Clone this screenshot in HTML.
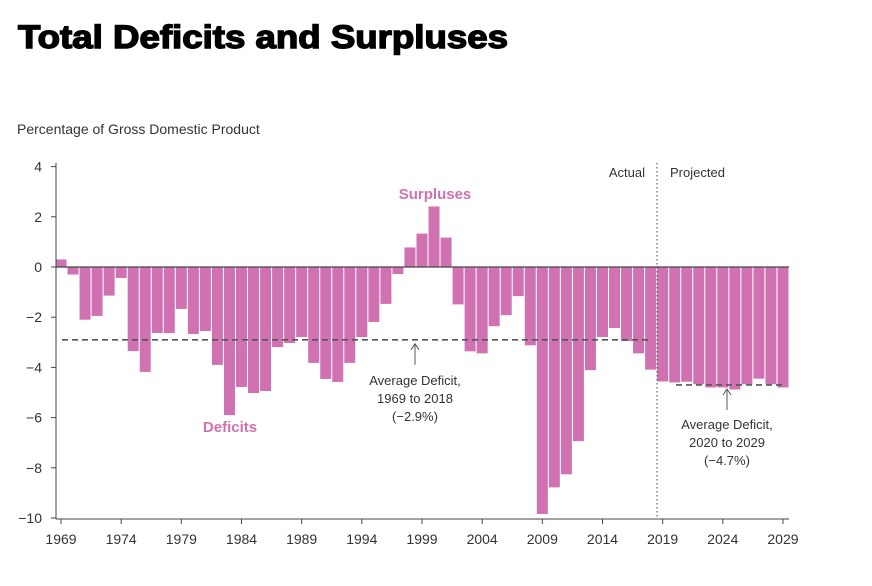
<!DOCTYPE html>
<html><head><meta charset="utf-8"><style>
body{margin:0;background:#fff;font-family:"Liberation Sans",sans-serif;}
svg text{font-family:"Liberation Sans",sans-serif;}
</style></head><body>
<svg width="872" height="581" id="c">
<text x="18" y="48" font-size="32" font-weight="900" fill="#000" stroke="#000" stroke-width="1.4" textLength="490" lengthAdjust="spacingAndGlyphs">Total Deficits and Surpluses</text>
<text x="17" y="134" font-size="14" fill="#333">Percentage of Gross Domestic Product</text>
<g id="bars"></g><g id="axes"></g>
</svg>
<script>
const years=[];for(let y=1969;y<=2029;y++)years.push(y);
const values=[0.3,-0.3,-2.1,-1.95,-1.14,-0.44,-3.35,-4.18,-2.63,-2.63,-1.67,-2.67,-2.55,-3.9,-5.9,-4.78,-5.02,-4.94,-3.19,-3.03,-2.79,-3.82,-4.46,-4.58,-3.82,-2.79,-2.19,-1.47,-0.28,0.78,1.33,2.41,1.17,-1.49,-3.36,-3.44,-2.36,-1.92,-1.16,-3.12,-9.84,-8.78,-8.26,-6.94,-4.11,-2.79,-2.43,-2.95,-3.44,-4.09,-4.56,-4.6,-4.57,-4.67,-4.8,-4.8,-4.88,-4.67,-4.45,-4.67,-4.8];
const yTicks=[4,2,0,-2,-4,-6,-8,-10];
const xTicks=[1969,1974,1979,1984,1989,1994,1999,2004,2009,2014,2019,2024,2029];
const avgActual=-2.9, avgProj=-4.7;
const NS="http://www.w3.org/2000/svg";
const X=y=>61+(y-1969)*12.033, Y=v=>267-v*25.1;
function mk(t,a,p){const e=document.createElementNS(NS,t);for(const k in a)e.setAttribute(k,a[k]);(p||document.getElementById('axes')).appendChild(e);return e;}
const bg=document.getElementById('bars');
years.forEach((yr,i)=>{const v=values[i];
const r=mk('rect',{x:X(yr)-5.5,y:Math.min(Y(v),Y(0)),width:11,height:Math.abs(Y(v)-Y(0)),fill:'#d072b2'},bg);

});
mk('line',{x1:56,x2:789,y1:Y(0),y2:Y(0),stroke:'#444','stroke-width':1.2});
mk('line',{x1:56,x2:56,y1:163,y2:519,stroke:'#444','stroke-width':1});
mk('line',{x1:56,x2:789,y1:519,y2:519,stroke:'#444','stroke-width':1});
yTicks.forEach(t=>{mk('line',{x1:51,x2:56,y1:Y(t),y2:Y(t),stroke:'#444'});
const tx=mk('text',{x:42,y:Y(t)+5,'font-size':14,'text-anchor':'end',fill:'#333'});tx.textContent=t<0?'\u2212'+(-t):t;

});
xTicks.forEach(t=>{mk('line',{x1:X(t),x2:X(t),y1:519,y2:524,stroke:'#444'});
const tx=mk('text',{x:X(t),y:544,'font-size':14,'text-anchor':'middle',fill:'#333'});tx.textContent=t;

});
mk('line',{x1:657,x2:657,y1:163,y2:519,stroke:'#444','stroke-dasharray':'1.5,2.5'});
mk('line',{x1:62,x2:652,y1:Y(avgActual),y2:Y(avgActual),stroke:'#555','stroke-width':1.6,'stroke-dasharray':'6,4'});
mk('line',{x1:676,x2:785,y1:Y(avgProj),y2:Y(avgProj),stroke:'#555','stroke-width':1.6,'stroke-dasharray':'6,4'});
mk('line',{x1:415,x2:415,y1:Y(avgActual)+5,y2:Y(avgActual)+25,stroke:'#555'});
mk('path',{d:`M411,${Y(avgActual)+10} L415,${Y(avgActual)+4} L419,${Y(avgActual)+10}`,fill:'none',stroke:'#555'});
mk('line',{x1:727,x2:727,y1:Y(avgProj)+5,y2:Y(avgProj)+25,stroke:'#555'});
mk('path',{d:`M723,${Y(avgProj)+10} L727,${Y(avgProj)+4} L731,${Y(avgProj)+10}`,fill:'none',stroke:'#555'});
function txt(s,x,y,o,name){const t=mk('text',Object.assign({x:x,y:y,'font-size':13,'text-anchor':'middle',fill:'#333'},o||{}));t.textContent=s;

}
txt('Average Deficit,',415,385,{},'avg-annotation');txt('1969 to 2018',415,403,{},'avg-annotation');txt('(\u22122.9%)',415,421,{},'avg-annotation');
txt('Average Deficit,',727,429,{},'avg-proj-annotation');txt('2020 to 2029',727,447,{},'avg-proj-annotation');txt('(\u22124.7%)',727,465,{},'avg-proj-annotation');
txt('Actual',645,177,{'text-anchor':'end'},'actual-label');txt('Projected',670,177,{'text-anchor':'start'},'projected-label');
txt('Surpluses',435,199,{'font-size':15,'font-weight':'bold',fill:'#d072b2'},'surpluses-label');
txt('Deficits',230,432,{'font-size':15,'font-weight':'bold',fill:'#d072b2'},'deficits-label');
</script>
</body></html>
